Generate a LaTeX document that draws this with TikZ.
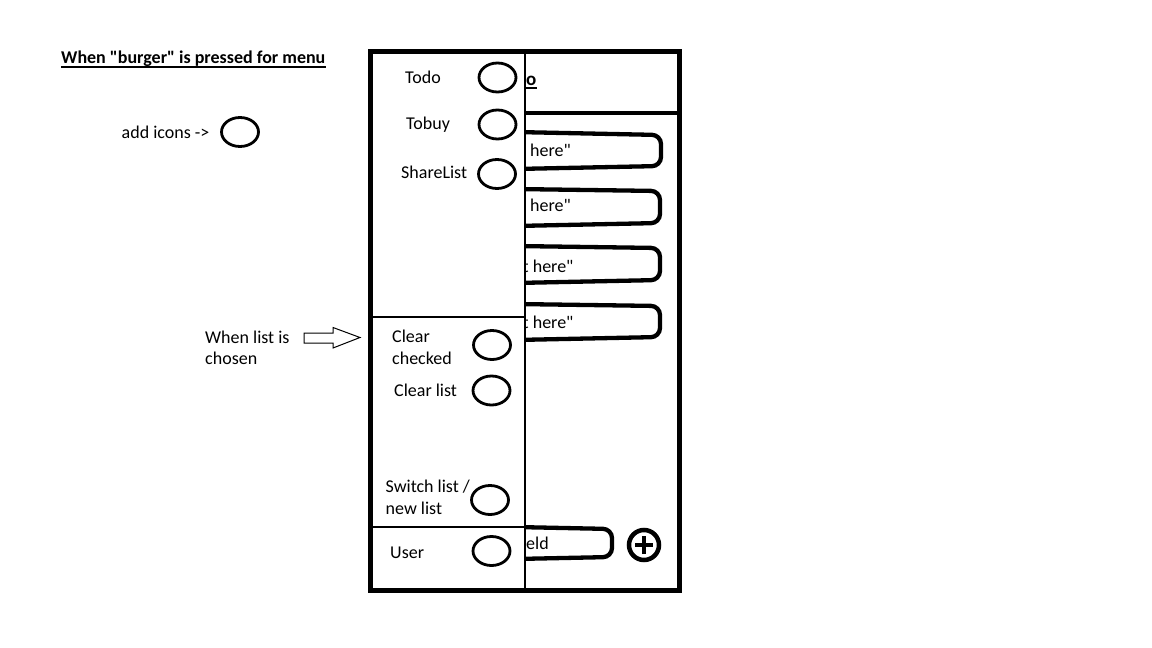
\documentclass[tikz,border=0pt]{standalone}
\usepackage{fontspec}
\setmainfont{Carlito}[Ligatures=TeXReset]
\usetikzlibrary{shapes.geometric}
\begin{document}
\begin{tikzpicture}[x=1pt,y=-1pt,
  lbl/.style={inner sep=0pt,anchor=base west,font=\fontsize{18}{22}\selectfont},
  icon/.style={draw,ellipse,line width=2.8pt,minimum width=37pt,minimum height=29pt,inner sep=0pt},
  thin/.style={line width=1.3pt},
  capsule/.style={line width=4.3pt,rounded corners=9pt},
  frame/.style={line width=5pt}]
\useasboundingbox (0,0) rectangle (1152,648);
% ----- phone content behind the drawer -----
\begin{scope}
\clip (525,40) rectangle (700,600);
\draw[line width=4pt] (520,113) -- (679.5,113);
\node[lbl,font=\fontsize{19}{22}\selectfont\bfseries] (hdr) at (526,85) {o};
\draw[line width=1.6pt] ([yshift=-3pt]hdr.base west) -- ([yshift=-3pt]hdr.base east);
\draw[capsule] (515,132) -- (661,135) -- (661,166) -- (515,169);
\draw[capsule] (515,189) -- (660,191) -- (660,223) -- (515,226);
\draw[capsule] (515,246) -- (660,248) -- (660,280) -- (515,283);
\draw[capsule] (515,304) -- (660,306) -- (660,337) -- (515,340);
\draw[capsule] (515,527) -- (612,529) -- (612,557) -- (515,559);
\node[lbl] (t1) at (530,156) {here"};
\node[lbl] (t2) at (530,211) {here"};
\node[lbl] (t3) at (522.5,272) {t here"};
\node[lbl] (t4) at (522.5,328) {t here"};
\node[lbl] (t5) at (526,549) {eld};
\end{scope}
\node[draw,circle,line width=4.5pt,minimum size=30pt,inner sep=0pt] (plus) at (644,545) {};
\draw[line width=4pt] ([xshift=-9pt]plus.center) -- ([xshift=9pt]plus.center);
\draw[line width=4pt] ([yshift=-9pt]plus.center) -- ([yshift=9pt]plus.center);
% ----- drawer -----
\draw[thin] (525,51) -- (525,590);
\draw[thin] (373,317) -- (525,317);
\draw[thin] (373,527) -- (525,527);
% ----- phone frame -----
\draw[frame] (370.5,51) rectangle (679.5,590);
% ----- drawer items -----
\node[lbl] (todo) at (405,83) {Todo};
\node[icon] (c1) at (497.5,77.5) {};
\node[lbl] (tobuy) at (406,129) {Tobuy};
\node[icon] (c2) at (497.5,124.5) {};
\node[lbl] (share) at (401,178) {ShareList};
\node[icon] (c3) at (497,174) {};
\node[lbl] (clr1) at (392,342) {Clear};
\node[lbl] (clr2) at (392,364) {checked};
\node[icon] (c4) at (492,345) {};
\node[lbl] (clrl) at (394,396) {Clear list};
\node[icon] (c5) at (491.5,390.5) {};
\node[lbl] (sw1) at (385.5,492) {Switch list /};
\node[lbl] (sw2) at (385.5,514) {new list};
\node[icon] (c6) at (490,500) {};
\node[lbl] (user) at (390,558) {User};
\node[icon] (c7) at (491.5,551) {};
% ----- annotations -----
\node[lbl,font=\fontsize{18}{22}\selectfont\bfseries] (title) at (61,63.5) {When "burger" is pressed for menu};
\draw[line width=1.6pt] ([yshift=-3.5pt]title.base west) -- ([yshift=-3.5pt]title.base east);
\node[lbl] (add) at (121.5,138.5) {add icons ->};
\node[icon] (c0) at (240,132) {};
\node[lbl] (wl1) at (205,343) {When list is};
\node[lbl] (wl2) at (205,364) {chosen};
\draw[line width=1pt] (304,333) -- (333,333) -- (333,327.5) -- (360,337.5) -- (333,348) -- (333,343) -- (304,343) -- cycle;
\end{tikzpicture}
\end{document}
